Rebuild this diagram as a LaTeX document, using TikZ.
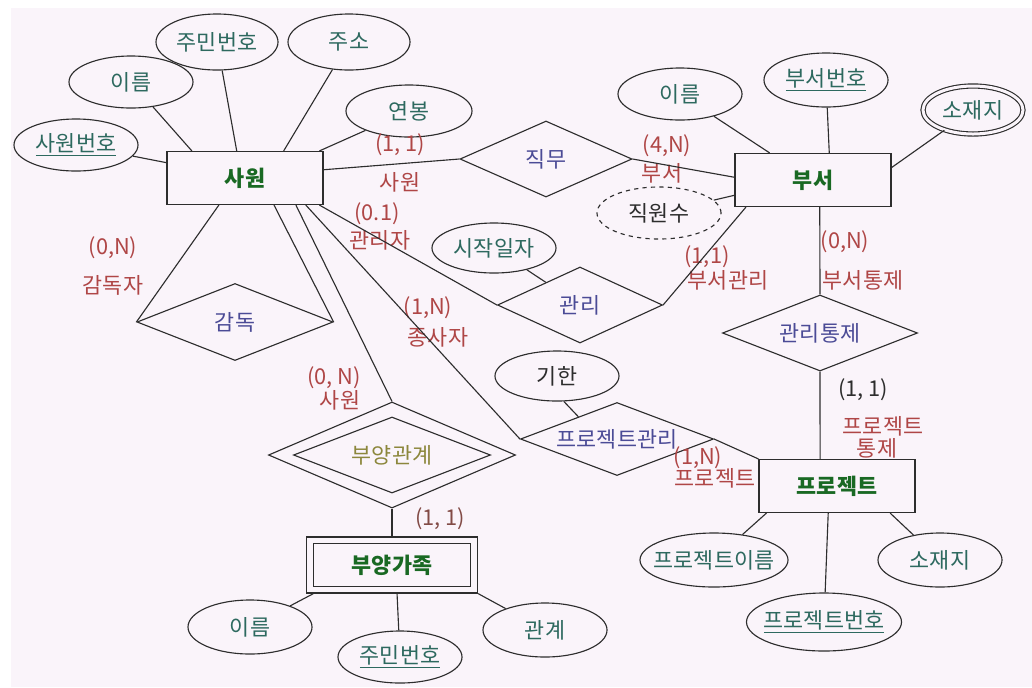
\documentclass[tikz,border=0pt]{standalone}
\usepackage{fontspec}
\setmainfont{Noto Sans CJK KR}
\usepackage{tikz}
\usetikzlibrary{bayesnet}
\usetikzlibrary{shapes.geometric}

\definecolor{bgpink}{RGB}{250,244,250}
\definecolor{entgreen}{RGB}{25,105,35}
\definecolor{attrteal}{RGB}{45,105,95}
\definecolor{relblue}{RGB}{75,75,150}
\definecolor{rolered}{RGB}{175,70,70}
\definecolor{rolebrown}{RGB}{130,75,70}
\definecolor{olivetext}{RGB}{140,135,60}
\definecolor{linegray}{RGB}{45,45,45}

\tikzset{
  every node/.style={font=\fontsize{15.5}{17}\selectfont},
  entity/.style={rectangle, draw=linegray, line width=0.8pt, inner sep=0pt,
    minimum width=3.9cm, minimum height=1.325cm, text=entgreen,
    font=\fontsize{15.5}{17}\selectfont\bfseries},
  attr/.style={ellipse, draw=linegray, line width=0.8pt, inner sep=0pt,
    minimum width=3.1cm, minimum height=1.3cm, text=attrteal},
  rel/.style={diamond, aspect=2.6, draw=linegray, line width=0.8pt, inner sep=0pt,
    text=relblue},
  role/.style={inner sep=0pt, text=rolered},
  conn/.style={-, draw=linegray, line width=0.8pt}
}

\begin{document}
\begin{tikzpicture}[x=0.025cm, y=-0.025cm]
  \useasboundingbox (0,0) rectangle (1032,687);
  \fill[white] (0,0) rectangle (1032,687);
  \fill[bgpink] (11,8) rectangle (1032,687);

  % Define nodes
  \node[entity] (s) at (245,178) {사원};
  \node[entity] (b) at (813,180) {부서};
  \node[entity] (p) at (837,486) {프로젝트};
  \node[entity, minimum width=4.275cm, minimum height=1.4cm] (g) at (392,565) {};
  \node[entity, minimum width=3.925cm, minimum height=1.075cm] (gin) at (392,565) {부양가족};

  \node[attr] (sid) at (76,145) {\underline{사원번호}};
  \node[attr] (sname) at (131,82) {이름};
  \node[attr, minimum width=3.05cm, minimum height=1.4cm] (sjumin) at (217,42) {주민번호};
  \node[attr, minimum width=3.05cm, minimum height=1.4cm] (sjuso) at (349,42) {주소};
  \node[attr, minimum width=3.15cm] (syeon) at (409,111) {연봉};
  \node[attr] (bname) at (680,94) {이름};
  \node[attr, minimum height=1.35cm] (bid) at (826,80) {\underline{부서번호}};
  \node[attr, minimum width=2.5cm, minimum height=1.2cm, double=bgpink,
    double distance=0.075cm] (bloc) at (973,110) {소재지};
  \node[attr, dashed, text=linegray] (jikwon) at (659,213) {직원수};
  \node[attr, minimum height=1.25cm] (start) at (494,248) {시작일자};
  \node[attr, minimum height=1.25cm, text=linegray] (limit) at (557,376) {기한};
  \node[attr, minimum height=1.35cm] (gname) at (250,627) {이름};
  \node[attr] (gjumin) at (400,657) {\underline{주민번호}};
  \node[attr, minimum height=1.35cm] (grel) at (545,630) {관계};
  \node[attr, inner xsep=-9pt, minimum width=3.7cm, minimum height=1.35cm] (pname) at (714,560) {프로젝트이름};
  \node[attr, inner xsep=-7.5pt, minimum width=3.875cm, minimum height=1.45cm] (pid) at (824,622) {\underline{프로젝트번호}};
  \node[attr, minimum height=1.35cm] (ploc) at (940,560) {소재지};

  \node[rel, minimum width=4.3cm, minimum height=1.9cm] (jikmu) at (546,159) {직무};
  \node[rel, minimum width=4.9cm, minimum height=1.925cm] (gamdok) at (235,322) {감독};
  \node[rel, minimum width=4.125cm, minimum height=1.9cm] (gwanri) at (580,305) {관리};
  \node[rel, minimum width=4.875cm, minimum height=1.9cm] (tongje) at (820,333) {관리통제};
  \node[rel, minimum width=4.825cm, minimum height=1.825cm] (pmgmt) at (617,439) {프로젝트관리};
  \node[rel, minimum width=6.175cm, minimum height=2.65cm] (buyang) at (392,455) {};
  \node[rel, minimum width=4.925cm, minimum height=1.9cm, text=olivetext] (buyangin) at (392,455) {부양관계};

  \node[role] (r1) at (400,145) {(1, 1)};
  \node[role] (r2) at (400,182) {사원};
  \node[role] (r3) at (667,146) {(4,N)};
  \node[role] (r4) at (662,173) {부서};
  \node[role] (r5) at (377,214) {(0.1)};
  \node[role] (r6) at (380,240) {관리자};
  \node[role] (r7) at (113,248) {(0,N)};
  \node[role] (r8) at (113,285) {감독자};
  \node[role] (r9) at (428,308) {(1,N)};
  \node[role] (r10) at (438,337) {종사자};
  \node[role] (r11) at (334,378) {(0, N)};
  \node[role] (r12) at (340,400) {사원};
  \node[role] (r13) at (707,257) {(1,1)};
  \node[role] (r14) at (728,280) {부서관리};
  \node[role] (r15) at (845,242) {(0,N)};
  \node[role] (r16) at (863,280) {부서통제};
  \node[role, text=linegray] (r17) at (863,390) {(1, 1)};
  \node[role] (r18) at (883,426) {프로젝트};
  \node[role] (r19) at (877,448) {통제};
  \node[role] (r20) at (698,458) {(1,N)};
  \node[role] (r21) at (715,478) {프로젝트};
  \node[role, text=rolebrown] (r22) at (440,519) {(1, 1)};

  % Connect nodes
  \edge[conn] {sid} {s};
  \edge[conn] {sname} {s.153};
  \edge[conn] {sjumin} {s.107};
  \edge[conn] {sjuso} {s.35};
  \edge[conn] {syeon} {s.20};
  \edge[conn] {s.6} {jikmu.west};
  \edge[conn] {jikmu.east} {b.178};
  \edge[conn] {bname} {b.148};
  \edge[conn] {bid} {b.59};
  \edge[conn] {bloc} {b.9};
  \edge[conn] {jikwon} {b.191};
  \edge[conn] {s.-20} {gwanri.west};
  \edge[conn] {gwanri.east} {b.202};
  \edge[conn] {start} {gwanri};
  \edge[conn] {b.-76} {tongje.north};
  \edge[conn] {tongje.south} {p.122};
  \edge[conn] {s.226} {gamdok.west};
  \edge[conn] {s.-43} {gamdok.east};
  \edge[conn] {s.-28} {buyang.north};
  \edge[conn] {s.-24} {pmgmt.west};
  \edge[conn] {limit.-75} {pmgmt.150};
  \edge[conn] {pmgmt.east} {p.north west};
  \edge[conn] {buyang.south} {g.north};
  \edge[conn] {p.201} {pname};
  \edge[conn] {p.-108} {pid};
  \edge[conn] {p.-27} {ploc};
  \edge[conn] {g.200} {gname};
  \edge[conn] {g.-80} {gjumin};
  \edge[conn] {g.south east} {grel};
\end{tikzpicture}
\end{document}
